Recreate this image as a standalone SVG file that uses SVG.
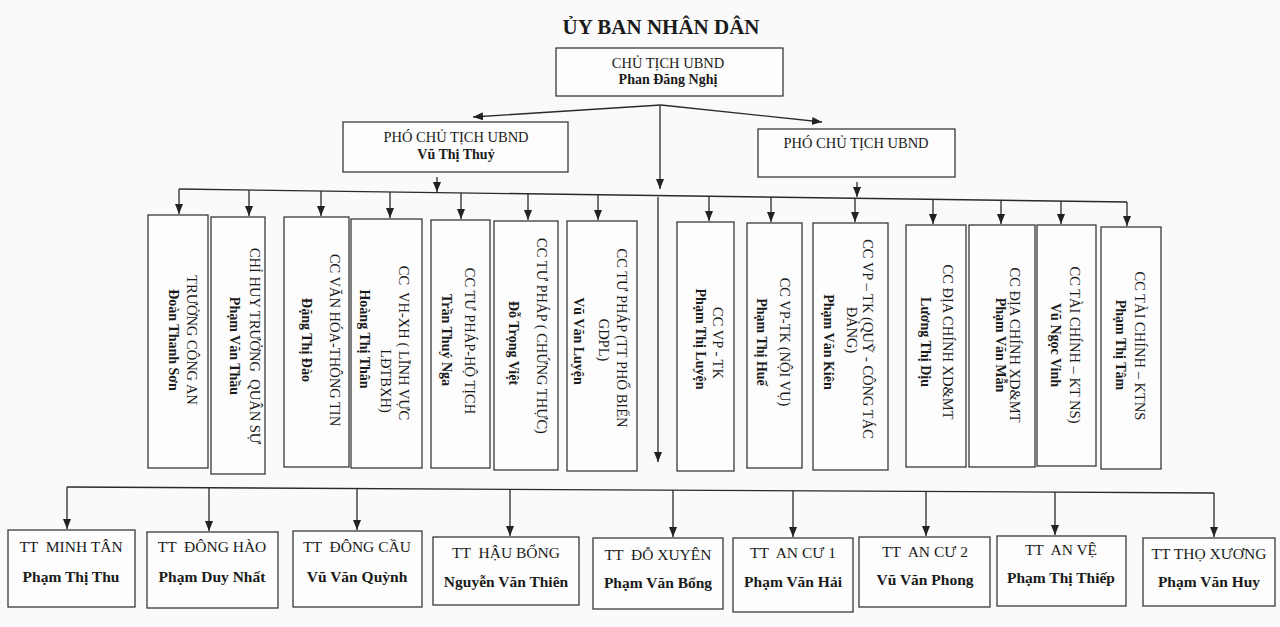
<svg xmlns="http://www.w3.org/2000/svg" width="1280" height="627" viewBox="0 0 1280 627">
<defs>
<marker id="ah" viewBox="0 0 10 8" refX="10" refY="4" markerWidth="10" markerHeight="8" markerUnits="userSpaceOnUse" orient="auto">
<path d="M0,0 L10,4 L0,8 z" fill="#222"/>
</marker>
<style>
.bx{fill:#fdfdfd;stroke:#3a3a3a;stroke-width:1.3}
.ln{fill:none;stroke:#2a2a2a;stroke-width:1.3}
.ar{fill:none;stroke:#2a2a2a;stroke-width:1.3;marker-end:url(#ah)}
text{font-family:"Liberation Serif","Times New Roman",serif;fill:#1a1a1a;white-space:pre}
.t{font-size:14.5px;text-anchor:middle}
.n{font-size:14px;font-weight:bold;text-anchor:middle}
.vt{font-size:14.5px;text-anchor:middle;dominant-baseline:central}
.vn{font-size:14px;font-weight:bold;text-anchor:middle;dominant-baseline:central}
.bt{font-size:15.5px;text-anchor:middle}
.bn{font-size:15.5px;font-weight:bold;text-anchor:middle}
</style>
</defs>
<rect x="0" y="0" width="1280" height="627" fill="#fafafa"/>
<text x="661" y="34" style="font-size:21px;font-weight:bold;text-anchor:middle">ỦY BAN NHÂN DÂN</text>

<g id="connectors">
<path class="ar" d="M661,105 L473,117"/>
<path class="ar" d="M661,105 L822,122"/>
<path class="ar" d="M660,105 L660,189"/>
<path class="ar" d="M437,177 L437,192"/>
<path class="ar" d="M857,182 L857,197"/>
<path class="ln" d="M179,189 L1127,202"/>
<path class="ar" d="M179,189 L179,214"/>
<path class="ar" d="M249,190 L249,216"/>
<path class="ar" d="M321,191 L321,216"/>
<path class="ar" d="M390,192 L390,218"/>
<path class="ar" d="M461,193 L461,219"/>
<path class="ar" d="M528,194 L528,220"/>
<path class="ar" d="M598,195 L598,220"/>
<path class="ar" d="M709,196 L709,221"/>
<path class="ar" d="M771,197 L771,222"/>
<path class="ar" d="M855,198 L855,222"/>
<path class="ar" d="M933,199 L933,224"/>
<path class="ar" d="M1001,200 L1001,224"/>
<path class="ar" d="M1061,201 L1061,224"/>
<path class="ar" d="M1127,202 L1127,226"/>
<path class="ar" d="M658,197 L658,462"/>
<path class="ln" d="M67,487 L1214,493"/>
<path class="ar" d="M67,487 L67,529"/>
<path class="ar" d="M209,488 L209,531"/>
<path class="ar" d="M357,488 L357,530"/>
<path class="ar" d="M510,489 L510,536"/>
<path class="ar" d="M673,490 L673,537"/>
<path class="ar" d="M793,491 L793,537"/>
<path class="ar" d="M926,491 L926,536"/>
<path class="ar" d="M1055,492 L1055,535"/>
<path class="ar" d="M1214,493 L1214,537"/>
</g>

<g id="chairman">
<rect class="bx" x="556" y="48" width="227" height="48"/>
<text class="t" x="668" y="68">CHỦ TỊCH UBND</text>
<text class="n" x="668" y="84">Phan Đăng Nghị</text>
</g>
<g id="vice1">
<rect class="bx" x="343" y="122" width="225" height="50"/>
<text class="t" x="456" y="142">PHÓ CHỦ TỊCH UBND</text>
<text class="n" x="456" y="159">Vũ Thị Thuỷ</text>
</g>
<g id="vice2">
<rect class="bx" x="758" y="129" width="197" height="48"/>
<text class="t" x="856" y="148">PHÓ CHỦ TỊCH UBND</text>
</g>

<g id="v1">
<rect class="bx" x="148" y="215" width="60" height="253"/>
<text class="vt" transform="translate(192,340) rotate(90)">TRƯỞNG CÔNG AN</text>
<text class="vn" transform="translate(173,340) rotate(90)">Đoàn Thanh Sơn</text>
</g>
<g id="v2">
<rect class="bx" x="211" y="217" width="54" height="257"/>
<text class="vt" transform="translate(255,346) rotate(90)">CHỈ HUY TRƯỞNG  QUÂN SỰ</text>
<text class="vn" transform="translate(234,346) rotate(90)">Phạm Văn Thầu</text>
</g>
<g id="v3">
<rect class="bx" x="284" y="217" width="65" height="250"/>
<text class="vt" transform="translate(335,340) rotate(90)">CC VĂN HÓA-THÔNG TIN</text>
<text class="vn" transform="translate(306,340) rotate(90)">Đặng Thị Đào</text>
</g>
<g id="v4">
<rect class="bx" x="351" y="219" width="71" height="249"/>
<text class="vt" transform="translate(404,343) rotate(90)">CC  VH-XH ( LĨNH VỰC</text>
<text class="vt" transform="translate(386,381) rotate(90)">LĐTBXH)</text>
<text class="vn" transform="translate(364,339) rotate(90)">Hoàng Thị Thân</text>
</g>
<g id="v5">
<rect class="bx" x="431" y="220" width="59" height="248"/>
<text class="vt" transform="translate(470,341) rotate(90)">CC TƯ PHÁP-HỘ TỊCH</text>
<text class="vn" transform="translate(446,340) rotate(90)">Trần Thuý Nga</text>
</g>
<g id="v6">
<rect class="bx" x="494" y="221" width="64" height="249"/>
<text class="vt" transform="translate(542,336) rotate(90)">CC TƯ PHÁP ( CHỨNG THỰC)</text>
<text class="vn" transform="translate(513,343) rotate(90)">Đỗ Trọng Việt</text>
</g>
<g id="v7">
<rect class="bx" x="567" y="221" width="70" height="250"/>
<text class="vt" transform="translate(622,338) rotate(90)">CC TƯ PHÁP (TT PHỔ BIẾN</text>
<text class="vt" transform="translate(604,340) rotate(90)">GDPL)</text>
<text class="vn" transform="translate(578,341) rotate(90)">Vũ Văn Luyện</text>
</g>
<g id="v8">
<rect class="bx" x="677" y="222" width="57" height="249"/>
<text class="vt" transform="translate(718,343) rotate(90)">CC VP - TK</text>
<text class="vn" transform="translate(700,339) rotate(90)">Phạm Thị Luyện</text>
</g>
<g id="v9">
<rect class="bx" x="747" y="223" width="55" height="245"/>
<text class="vt" transform="translate(785,342) rotate(90)">CC VP-TK (NỘI VỤ)</text>
<text class="vn" transform="translate(761,342) rotate(90)">Phạm Thị Huế</text>
</g>
<g id="v10">
<rect class="bx" x="813" y="223" width="75" height="247"/>
<text class="vt" transform="translate(868,339) rotate(90)">CC VP – TK (QUỸ - CÔNG TÁC</text>
<text class="vt" transform="translate(852,330) rotate(90)">ĐẢNG)</text>
<text class="vn" transform="translate(828,342) rotate(90)">Phạm Văn Kiên</text>
</g>
<g id="v11">
<rect class="bx" x="906" y="225" width="60" height="242"/>
<text class="vt" transform="translate(948,342) rotate(90)">CC ĐỊA CHÍNH XD&amp;MT</text>
<text class="vn" transform="translate(925,342) rotate(90)">Lương Thị Dịu</text>
</g>
<g id="v12">
<rect class="bx" x="969" y="225" width="66" height="242"/>
<text class="vt" transform="translate(1015,345) rotate(90)">CC ĐỊA CHÍNH XD&amp;MT</text>
<text class="vn" transform="translate(1000,345) rotate(90)">Phạm Văn Mẫn</text>
</g>
<g id="v13">
<rect class="bx" x="1037" y="225" width="59" height="241"/>
<text class="vt" transform="translate(1075,345) rotate(90)">CC TÀI CHÍNH – KT NS)</text>
<text class="vn" transform="translate(1055,345) rotate(90)">Vũ Ngọc Vinh</text>
</g>
<g id="v14">
<rect class="bx" x="1101" y="227" width="60" height="242"/>
<text class="vt" transform="translate(1140,346) rotate(90)">CC TÀI CHÍNH – KTNS</text>
<text class="vn" transform="translate(1120,345) rotate(90)">Phạm Thị Tâm</text>
</g>

<g id="b1">
<rect class="bx" x="8" y="530" width="127" height="77"/>
<text class="bt" x="71" y="552">TT  MINH TÂN</text>
<text class="bn" x="71" y="582">Phạm Thị Thu</text>
</g>
<g id="b2">
<rect class="bx" x="147" y="532" width="131" height="76"/>
<text class="bt" x="212" y="552">TT  ĐÔNG HÀO</text>
<text class="bn" x="212" y="582">Phạm Duy Nhất</text>
</g>
<g id="b3">
<rect class="bx" x="293" y="531" width="129" height="76"/>
<text class="bt" x="357" y="552">TT  ĐÔNG CẦU</text>
<text class="bn" x="357" y="582">Vũ Văn Quỳnh</text>
</g>
<g id="b4">
<rect class="bx" x="433" y="537" width="146" height="68"/>
<text class="bt" x="506" y="558">TT  HẬU BỔNG</text>
<text class="bn" x="506" y="587">Nguyễn Văn Thiên</text>
</g>
<g id="b5">
<rect class="bx" x="593" y="538" width="130" height="71"/>
<text class="bt" x="658" y="560">TT  ĐỖ XUYÊN</text>
<text class="bn" x="658" y="588">Phạm Văn Bổng</text>
</g>
<g id="b6">
<rect class="bx" x="733" y="538" width="120" height="74"/>
<text class="bt" x="793" y="558">TT  AN CƯ 1</text>
<text class="bn" x="793" y="587">Phạm Văn Hải</text>
</g>
<g id="b7">
<rect class="bx" x="859" y="537" width="131" height="70"/>
<text class="bt" x="925" y="557">TT  AN CƯ 2</text>
<text class="bn" x="925" y="585">Vũ Văn Phong</text>
</g>
<g id="b8">
<rect class="bx" x="997" y="536" width="129" height="70"/>
<text class="bt" x="1061" y="555">TT  AN VỆ</text>
<text class="bn" x="1061" y="583">Phạm Thị Thiếp</text>
</g>
<g id="b9">
<rect class="bx" x="1143" y="538" width="132" height="68"/>
<text class="bt" x="1209" y="559">TT THỌ XƯƠNG</text>
<text class="bn" x="1209" y="587">Phạm Văn Huy</text>
</g>
</svg>
